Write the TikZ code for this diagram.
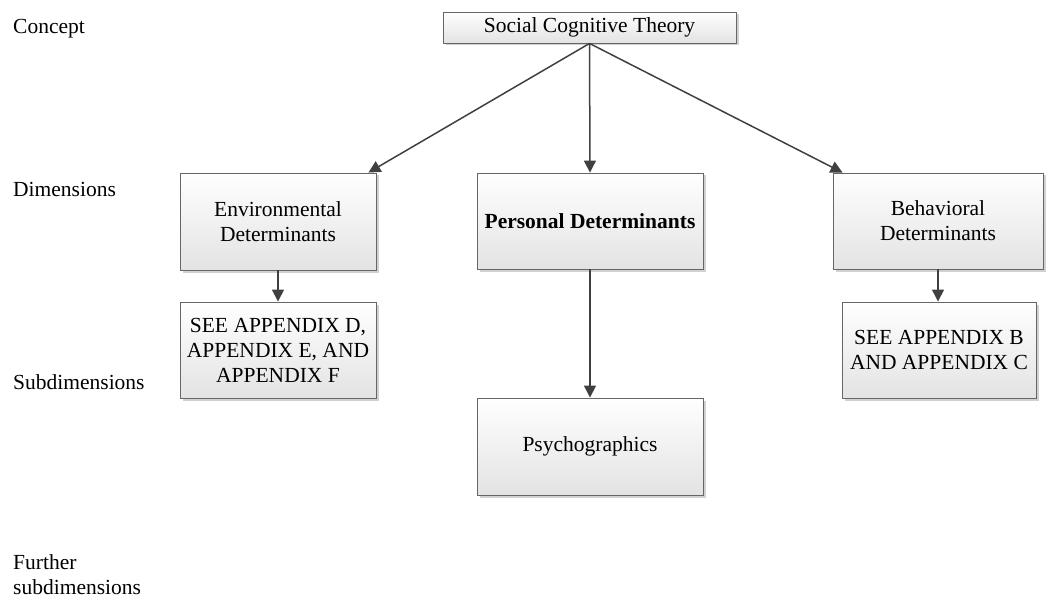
\documentclass[tikz,border=0pt]{standalone}
\usepackage{fontspec}
\setmainfont{Liberation Serif}
\usetikzlibrary{arrows.meta,shadows,calc}
\begin{document}
\begin{tikzpicture}[x=1pt,y=-1pt,
  every node/.style={font=\fontsize{21.5}{25}\selectfont},
  box/.style={draw=black!60, line width=0.9pt, top color=white, bottom color=black!11,
    align=center, inner sep=0pt,
    drop shadow={shadow xshift=2.5pt, shadow yshift=-2.5pt, fill=black!18, opacity=1}},
  lbl/.style={anchor=west, inner sep=0pt, align=left},
  conn/.style={draw=black!75, line width=1.5pt, -{Triangle[length=12pt,width=12pt]}}]
\useasboundingbox (0,0) rectangle (1046,604);

\node[box, minimum width=293pt, minimum height=31pt] (sct) at (589.5,27.5) {Social Cognitive Theory};
\node[box, minimum width=196pt, minimum height=97pt] (env) at (278,221.5) {Environmental\\Determinants};
\node[box, minimum width=226pt, minimum height=96pt] (pers) at (590,221) {\textbf{Personal Determinants}};
\node[box, minimum width=210pt, minimum height=96pt] (beh) at (938,221) {Behavioral\\Determinants};
\node[box, minimum width=196pt, minimum height=96pt] (seed) at (278,350) {SEE APPENDIX D,\\APPENDIX E, AND\\APPENDIX F};
\node[box, minimum width=194pt, minimum height=96pt] (seeb) at (939,350) {SEE APPENDIX B\\AND APPENDIX C};
\node[box, minimum width=226pt, minimum height=97pt] (psy) at (590,446.5) {Psychographics};

\node[lbl] (l1) at (13,29) {Concept};
\node[lbl] (l2) at (13,189) {Dimensions};
\node[lbl] (l3) at (13,382) {Subdimensions};
\node[lbl] (l4) at (13,575) {Further\\subdimensions};

\draw[conn] (sct.south) -- ([xshift=-8pt]env.north east);
\draw[conn] (sct.south) -- (pers.north);
\draw[conn] (sct.south) -- ([xshift=10pt]beh.north west);
\draw[conn] (env.south) -- (seed.north);
\draw[conn] (pers.south) -- (psy.north);
\draw[conn] (beh.south) -- (beh.south |- seeb.north);
\end{tikzpicture}
\end{document}
